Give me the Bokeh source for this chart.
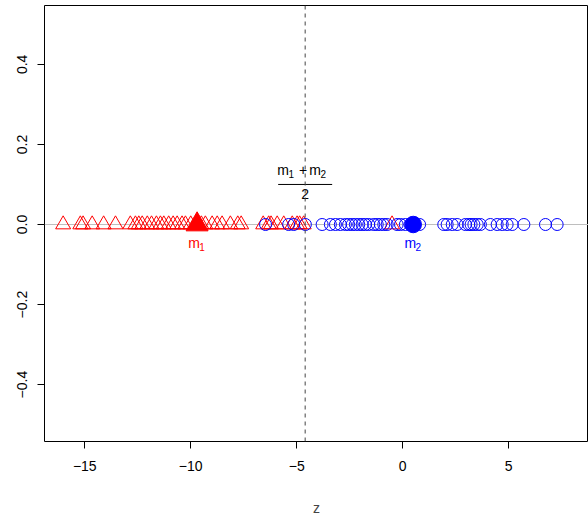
import numpy as np
from bokeh.plotting import figure
from bokeh.models import FixedTicker, Span, CustomJSTickFormatter
from bokeh.core.properties import value
from bokeh.embed import file_html
from bokeh.resources import INLINE

# ---- data ----
class1_z = [-16.02, -15.21, -15.08, -14.65, -14.11, -13.55, -12.85, -12.61, -12.45,
            -12.29, -12.05, -11.85, -11.62, -11.43, -11.27, -11.04, -10.83, -10.64,
            -10.41, -10.25, -10.0, -9.75, -9.5, -9.31, -8.99, -8.75, -8.52, -8.13,
            -7.78, -7.62, -6.58, -6.32, -6.21, -5.92, -5.61, -5.21, -4.98, -4.86,
            -4.67, -0.50]
class2_z = [-6.47, -5.38, -5.14, -4.59, -3.80, -3.41, -3.17, -2.94, -2.70, -2.55,
            -2.38, -2.23, -2.07, -1.91, -1.76, -1.60, -1.36, -1.20, -1.05, -0.89,
            -0.73, -0.26, -0.10, 0.13, 0.35, 0.55, 0.80, 1.94, 2.10, 2.34, 2.57,
            2.96, 3.12, 3.23, 3.36, 3.52, 3.67, 4.14, 4.46, 4.70, 4.93, 5.17, 5.72,
            6.74, 7.29]
m1 = -9.70
m2 = 0.50
x_ticks = [-15, -10, -5, 0, 5]
y_ticks = [-0.4, -0.2, 0.0, 0.2, 0.4]
x_label = "z"

mid = (m1 + m2) / 2

FONT = "Liberation Sans"
FS = "14px"
SUB = "10px"

p = figure(width=588, height=519, x_range=(-16.9, 8.77), y_range=(-0.542, 0.547),
           output_backend="svg", toolbar_location=None,
           min_border_left=44, min_border_right=0, min_border_top=5,
           min_border_bottom=78)
p.grid.visible = False
p.outline_line_color = "black"
p.outline_line_width = 1
p.background_fill_color = "white"
p.border_fill_color = "white"

for ax in (p.xaxis[0], p.yaxis[0]):
    ax.axis_line_color = None
    ax.major_tick_in = 0
    ax.major_tick_out = 7
    ax.minor_tick_line_color = None
    ax.major_tick_line_color = "black"
    ax.major_label_text_font = FONT
    ax.major_label_text_font_size = FS
    ax.major_label_text_color = "black"

p.xaxis.ticker = FixedTicker(ticks=x_ticks)
p.yaxis.ticker = FixedTicker(ticks=y_ticks)
p.xaxis.formatter = CustomJSTickFormatter(code="return tick.toFixed(0).replace('-', '\u2212');")
p.yaxis.formatter = CustomJSTickFormatter(code="return tick.toFixed(1).replace('-', '\u2212');")
p.xaxis.major_label_standoff = 12
p.yaxis.major_label_standoff = 10
p.yaxis.major_label_orientation = "vertical"
p.xaxis.axis_label = x_label
p.xaxis.axis_label_text_font = FONT
p.xaxis.axis_label_text_font_size = FS
p.xaxis.axis_label_text_font_style = "normal"
p.xaxis.axis_label_standoff = 26

p.add_layout(Span(location=0, dimension="width", line_color="#BEBEBE",
                  line_width=1, level="underlay"))
p.add_layout(Span(location=mid, dimension="height", line_color="#444444",
                  line_width=1, line_dash="4 4"))

p.scatter(x=class1_z, y=np.zeros(len(class1_z)), marker="triangle", size=15,
          fill_color=None, line_color="red", line_width=1)
p.scatter(x=class2_z, y=np.zeros(len(class2_z)), marker="circle", size=12,
          fill_color=None, line_color="blue", line_width=1)
p.scatter(x=[m1], y=[0], marker="triangle", size=22, fill_color="red", line_color="red")
p.scatter(x=[m2], y=[0], marker="circle", size=16.5, fill_color="blue", line_color="blue")

# mean labels
lab_y = -0.045
for mx, sub, col in ((m1, "1", "red"), (m2, "2", "blue")):
    p.text(x=[mx], y=[lab_y], text=["m"], text_font=value(FONT), text_font_size=FS,
           text_color=col, text_align="center", text_baseline="middle", x_offset=-3)
    p.text(x=[mx], y=[lab_y], text=[sub], text_font=value(FONT), text_font_size=SUB,
           text_color=col, text_align="center", text_baseline="middle",
           x_offset=5, y_offset=4)

# fraction (m1 + m2) / 2
num_y = 0.135
bar_y = 0.10
den_y = 0.075
parts = [("m", FS, -22, 0), ("1", SUB, -14, 4), ("+", FS, -2, 0),
         ("m", FS, 10, 0), ("2", SUB, 18, 4)]
for t, fs, dx, dy in parts:
    p.text(x=[mid], y=[num_y], text=[t], text_font=value(FONT), text_font_size=fs,
           text_color="black", text_align="center", text_baseline="middle",
           x_offset=dx, y_offset=dy)
p.scatter(x=[mid], y=[bar_y], marker="dash", size=54, line_color="black", line_width=1)
p.text(x=[mid], y=[den_y], text=["2"], text_font=value(FONT), text_font_size=FS,
       text_color="black", text_align="center", text_baseline="middle")

open("out.html", "w").write(file_html(p, INLINE))
